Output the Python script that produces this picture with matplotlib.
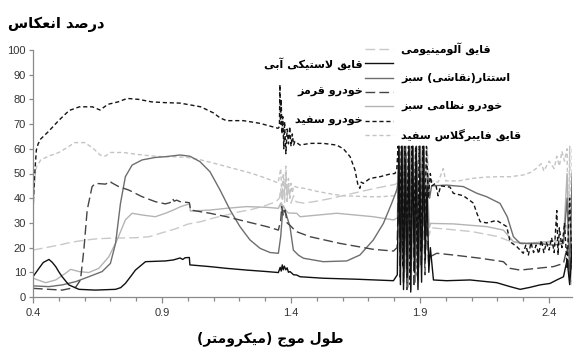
import matplotlib
matplotlib.use('Agg')
import matplotlib.pyplot as plt
from matplotlib.lines import Line2D

plt.rcParams['font.family'] = ['Liberation Sans', 'DejaVu Sans']

# ---------------- text ----------------
title_text = "درصد انعکاس"
xlabel_text = "طول موج (میکرومتر)"
label_alu = "قایق آلومینیومی"
label_rubber = "قایق لاستیکی آبی"
label_camo = "استتار(نقاشی) سبز"
label_redcar = "خودرو قرمز"
label_milcar = "خودرو نظامی سبز"
label_whitecar = "خودرو سفید"
label_fiber = "قایق فایبرگلاس سفید"

x_ticks = [0.4, 0.9, 1.4, 1.9, 2.4]
x_tick_labels = ["0.4", "0.9", "1.4", "1.9", "2.4"]
y_ticks = [0, 10, 20, 30, 40, 50, 60, 70, 80, 90, 100]

# ---------------- data (wavelength um, reflectance %) ----------------
wl_alu = [0.40, 0.45, 0.50, 0.55, 0.60, 0.65, 0.70, 0.75, 0.80, 0.85, 0.90, 0.95, 1.00, 1.05, 1.10,
          1.15, 1.20, 1.25, 1.30, 1.34, 1.355, 1.36, 1.365, 1.37, 1.375, 1.38, 1.385, 1.39, 1.40,
          1.41, 1.42, 1.45, 1.50, 1.55, 1.60, 1.65, 1.70, 1.75, 1.80,
          1.812, 1.818, 1.825, 1.831, 1.838, 1.845, 1.851, 1.858, 1.865, 1.872, 1.879, 1.886,
          1.893, 1.900, 1.907, 1.914, 1.921, 1.928, 1.935, 1.945,
          2.00, 2.05, 2.10, 2.15, 2.20, 2.25, 2.30, 2.35, 2.40, 2.45, 2.47, 2.48, 2.49]
rf_alu = [19.0, 20.0, 21.0, 22.2, 23.0, 23.6, 23.8, 23.9, 24.0, 24.4, 26.0, 27.5, 29.5, 30.5, 32.0,
          33.2, 34.5, 35.5, 37.0, 38.5, 40.0, 44.0, 36.0, 47.0, 38.0, 50.0, 40.0, 45.0, 38.0,
          41.0, 38.5, 38.0, 38.8, 39.8, 41.0, 42.2, 43.4, 44.5, 45.5,
          46, 61, 25, 61, 12, 61, 30, 61, 8, 50, 20, 61,
          4, 61, 22, 61, 18, 40, 25, 28,
          27.5, 27.0, 26.5, 25.5, 24.5, 22.5, 21.5, 21.5, 22.0, 22.5, 30.0, 15.0, 40.0]

wl_rubber = [0.400, 0.423, 0.440, 0.462, 0.475, 0.488, 0.500, 0.513, 0.539, 0.578, 0.642, 0.720,
             0.740, 0.758, 0.780, 0.797, 0.836, 0.913, 0.944, 0.970, 0.980, 0.990, 1.006, 1.008,
             1.086, 1.150, 1.228, 1.306, 1.351, 1.358, 1.362, 1.366, 1.370, 1.374, 1.380, 1.385,
             1.390, 1.396, 1.410, 1.422, 1.435, 1.525, 1.654, 1.797,
             1.812, 1.818, 1.824, 1.830, 1.836, 1.843, 1.850, 1.857, 1.864, 1.871, 1.878, 1.885,
             1.892, 1.899, 1.906, 1.913, 1.920, 1.927, 1.934, 1.940,
             1.952, 2.003, 2.094, 2.197, 2.249, 2.288, 2.326, 2.365, 2.404, 2.430, 2.456,
             2.470, 2.480, 2.490]
rf_rubber = [8.2, 11.6, 14.0, 15.2, 14.0, 12.3, 10.2, 8.2, 4.9, 3.1, 2.8, 3.1,
             3.8, 5.5, 8.5, 10.9, 14.3, 14.6, 15.0, 15.8, 15.2, 15.9, 16.0, 13.0,
             12.3, 11.6, 10.9, 10.3, 9.9, 12.0, 10.5, 13.0, 11.0, 12.5, 11.0, 11.8,
             10.0, 10.3, 9.0, 8.9, 8.2, 7.6, 7.2, 6.6,
             9, 61, 5, 61, 3, 55, 8, 61, 2, 61, 10, 61,
             3, 50, 6, 61, 15, 45, 10, 20,
             6.9, 6.6, 6.9, 5.8, 4.2, 3.1, 3.9, 4.9, 5.5, 6.9, 8.2,
             15.0, 5.0, 20.0]

wl_camo = [0.400, 0.462, 0.513, 0.565, 0.616, 0.668, 0.700, 0.720, 0.739, 0.758, 0.784, 0.823,
           0.874, 0.913, 0.970, 1.008, 1.047, 1.086, 1.125, 1.164, 1.202, 1.241, 1.280, 1.319,
           1.351, 1.360, 1.368, 1.380, 1.396, 1.409, 1.428, 1.448, 1.525, 1.616, 1.667, 1.719,
           1.758, 1.790, 1.810,
           1.814, 1.820, 1.827, 1.833, 1.840, 1.847, 1.853, 1.860, 1.867, 1.874, 1.881, 1.888,
           1.895, 1.902, 1.909, 1.916, 1.923, 1.930, 1.937, 1.945,
           2.003, 2.068, 2.120, 2.158, 2.210, 2.238, 2.262, 2.288, 2.352, 2.417, 2.456,
           2.470, 2.480, 2.490]
rf_camo = [4.5, 4.2, 4.9, 6.2, 8.2, 10.3, 13.6, 21.7, 37.9, 48.7, 53.4, 55.5,
           56.5, 56.8, 57.5, 57.0, 54.8, 50.7, 43.3, 35.2, 28.5, 23.1, 19.7, 18.0,
           17.7, 24.4, 35.2, 33.9, 28.5, 19.0, 17.0, 15.7, 14.3, 14.6, 17.0, 23.1,
           29.8, 37.9, 43.3,
           46, 61, 20, 61, 10, 58, 4, 61, 15, 61, 6, 55,
           12, 61, 20, 61, 25, 50, 40, 45,
           45.3, 44.7, 42.0, 40.6, 37.9, 32.5, 24.4, 21.7, 21.7, 21.0, 21.7,
           40.0, 10.0, 50.0]

wl_redcar = [0.400, 0.462, 0.513, 0.565, 0.584, 0.597, 0.610, 0.629, 0.642, 0.681, 0.700, 0.704,
             0.732, 0.771, 0.823, 0.874, 0.913, 0.931, 0.941, 0.947, 0.957, 0.970, 1.006, 1.011,
             1.086, 1.150, 1.228, 1.306, 1.351, 1.360, 1.364, 1.370, 1.377, 1.385, 1.396, 1.410,
             1.420, 1.474, 1.590, 1.719, 1.797,
             1.811, 1.817, 1.823, 1.829, 1.836, 1.842, 1.849, 1.856, 1.863, 1.870, 1.877, 1.884,
             1.891, 1.898, 1.905, 1.912, 1.919, 1.926, 1.933, 1.939,
             1.965, 2.029, 2.133, 2.223, 2.249, 2.288, 2.352, 2.417, 2.456,
             2.470, 2.480, 2.490]
rf_redcar = [3.5, 3.1, 2.8, 3.9, 6.9, 19.0, 35.2, 44.7, 46.0, 45.7, 46.8, 46.3,
             44.7, 43.3, 40.6, 38.6, 37.7, 38.2, 39.8, 38.8, 39.2, 38.6, 38.2, 35.2,
             33.9, 32.5, 30.5, 28.5, 27.1, 31.0, 36.6, 33.0, 35.2, 30.0, 29.0, 27.5,
             26.5, 24.4, 21.7, 19.3, 18.6,
             20, 45, 8, 61, 5, 61, 3, 50, 10, 61, 4, 58,
             7, 61, 12, 48, 9, 35, 14, 16.3,
             17.7, 17.0, 15.7, 14.3, 11.6, 10.9, 11.6, 12.3, 13.6,
             20.0, 8.0, 25.0]

wl_milcar = [0.400, 0.449, 0.488, 0.526, 0.546, 0.578, 0.616, 0.655, 0.694, 0.726, 0.758, 0.784,
             0.823, 0.874, 0.913, 0.944, 0.970, 1.006, 1.010, 1.086, 1.150, 1.228, 1.306, 1.351,
             1.360, 1.365, 1.370, 1.380, 1.390, 1.422, 1.435, 1.577, 1.719, 1.797,
             1.812, 1.819, 1.826, 1.832, 1.839, 1.846, 1.853, 1.859, 1.866, 1.873, 1.880, 1.887,
             1.894, 1.901, 1.908, 1.915, 1.922, 1.929, 1.936, 1.941,
             2.029, 2.158, 2.223, 2.262, 2.313, 2.391, 2.456,
             2.470, 2.480, 2.490]
rf_milcar = [7.6, 5.8, 6.9, 9.6, 11.2, 10.3, 9.9, 11.6, 16.3, 23.1, 31.2, 33.9,
             33.2, 32.5, 33.9, 35.2, 36.5, 37.7, 34.8, 35.2, 35.9, 36.6, 36.3, 35.9,
             38.0, 34.0, 37.0, 35.0, 34.0, 33.9, 32.5, 33.9, 32.5, 31.2,
             32, 61, 15, 61, 8, 61, 25, 61, 3, 61, 18, 61,
             6, 61, 20, 55, 25, 45, 28, 29.8,
             29.6, 28.5, 27.1, 22.4, 21.7, 22.4, 23.1,
             50.0, 10.0, 45.0]

wl_whitecar = [0.400, 0.404, 0.408, 0.413, 0.420, 0.430, 0.460, 0.500, 0.540, 0.580, 0.630, 0.660,
               0.690, 0.730, 0.765, 0.810, 0.860, 0.910, 0.970, 1.050, 1.100, 1.125, 1.150, 1.215,
               1.280, 1.350, 1.355, 1.357, 1.359, 1.362, 1.365, 1.368, 1.372, 1.375, 1.380, 1.385,
               1.390, 1.395, 1.400, 1.405, 1.410, 1.415, 1.435, 1.474, 1.525, 1.577, 1.603, 1.629,
               1.648, 1.660, 1.667, 1.672, 1.680, 1.706, 1.745, 1.784, 1.803,
               1.810, 1.815, 1.821, 1.828, 1.834, 1.841, 1.848, 1.855, 1.862, 1.869, 1.876, 1.883,
               1.890, 1.897, 1.904, 1.911, 1.918, 1.925, 1.932, 1.940, 1.946,
               1.960, 1.970, 1.980, 2.016, 2.029, 2.068, 2.107, 2.120, 2.133, 2.158, 2.197, 2.236,
               2.249, 2.275, 2.300, 2.310, 2.320, 2.330, 2.340, 2.350, 2.360, 2.370, 2.380, 2.390,
               2.400, 2.410, 2.420, 2.430, 2.435, 2.440, 2.450, 2.460, 2.470, 2.480, 2.490]
rf_whitecar = [36.0, 44.0, 52.0, 59.5, 62.0, 64.0, 67.0, 71.5, 75.5, 77.0, 77.0, 75.7,
               78.0, 79.0, 80.4, 80.0, 79.0, 78.7, 78.5, 77.0, 74.5, 72.5, 71.4, 71.4,
               70.3, 68.3, 69.0, 86.0, 70.0, 80.0, 66.0, 73.0, 60.0, 71.0, 58.0, 68.0,
               62.0, 69.0, 61.0, 66.0, 61.5, 63.0, 61.5, 62.2, 62.2, 61.5, 60.0, 56.8,
               51.4, 45.0, 44.0, 46.5, 46.0, 48.0, 48.7, 49.8, 50.0,
               52, 61, 30, 61, 12, 61, 20, 61, 5, 61, 25, 61,
               8, 61, 18, 61, 30, 61, 40, 50, 45,
               46.0, 41.0, 45.0, 44.5, 42.0, 41.0, 38.0, 34.0, 30.5, 30.0, 31.0, 28.5,
               22.4, 20.4, 17.7, 21.0, 17.0, 22.0, 18.0, 21.0, 17.5, 23.0, 18.0, 22.0,
               19.0, 24.0, 18.0, 35.0, 17.0, 28.0, 20.0, 30.0, 12.0, 40.0, 10.0]

wl_fiber = [0.400, 0.405, 0.410, 0.415, 0.430, 0.460, 0.500, 0.540, 0.560, 0.600, 0.630, 0.660,
            0.680, 0.700, 0.750, 0.800, 0.850, 0.900, 0.950, 1.000, 1.050, 1.100, 1.150, 1.200,
            1.250, 1.300, 1.350, 1.360, 1.365, 1.370, 1.375, 1.380, 1.385, 1.390, 1.395, 1.400,
            1.405, 1.410, 1.420, 1.450, 1.500, 1.550, 1.600, 1.650, 1.700, 1.750, 1.800,
            1.813, 1.820, 1.826, 1.833, 1.839, 1.846, 1.852, 1.859, 1.866, 1.872, 1.879, 1.886,
            1.893, 1.900, 1.907, 1.914, 1.921, 1.928, 1.935, 1.945,
            1.970, 1.990, 2.000, 2.050, 2.100, 2.150, 2.200, 2.250, 2.300, 2.330, 2.350, 2.370,
            2.380, 2.400, 2.420, 2.430, 2.440, 2.450, 2.460, 2.470, 2.475, 2.480, 2.485, 2.490]
rf_fiber = [32.0, 45.0, 51.0, 53.0, 55.5, 57.0, 58.5, 61.0, 62.5, 62.5, 60.5, 57.5,
            57.0, 58.5, 58.5, 57.8, 57.2, 56.8, 56.8, 56.5, 55.5, 54.2, 52.8, 51.4,
            50.0, 48.2, 46.2, 52.0, 40.0, 50.0, 42.0, 53.0, 38.0, 48.0, 40.0, 46.0,
            42.0, 45.0, 44.5, 44.0, 42.8, 41.8, 41.0, 40.8, 40.6, 40.6, 41.0,
            44, 61, 30, 61, 18, 61, 35, 61, 10, 61, 28, 61,
            15, 61, 38, 61, 30, 61, 45, 47,
            46.5, 52.0, 47.0, 47.0, 48.0, 48.5, 48.7, 48.7, 49.4, 50.5, 52.0, 54.0,
            51.0, 55.0, 52.0, 57.0, 53.0, 59.0, 55.0, 60.0, 20.0, 61.0, 5.0, 60.0]

# ---------------- Persian shaping (contextual forms + visual order) ----------------
FORMS = {
    '\u0622': ('\uFE81', '\uFE82', None, None),
    '\u0627': ('\uFE8D', '\uFE8E', None, None),
    '\u0628': ('\uFE8F', '\uFE90', '\uFE91', '\uFE92'),
    '\u062A': ('\uFE95', '\uFE96', '\uFE97', '\uFE98'),
    '\u062C': ('\uFE9D', '\uFE9E', '\uFE9F', '\uFEA0'),
    '\u062E': ('\uFEA5', '\uFEA6', '\uFEA7', '\uFEA8'),
    '\u062F': ('\uFEA9', '\uFEAA', None, None),
    '\u0631': ('\uFEAD', '\uFEAE', None, None),
    '\u0632': ('\uFEAF', '\uFEB0', None, None),
    '\u0633': ('\uFEB1', '\uFEB2', '\uFEB3', '\uFEB4'),
    '\u0634': ('\uFEB5', '\uFEB6', '\uFEB7', '\uFEB8'),
    '\u0635': ('\uFEB9', '\uFEBA', '\uFEBB', '\uFEBC'),
    '\u0637': ('\uFEC1', '\uFEC2', '\uFEC3', '\uFEC4'),
    '\u0638': ('\uFEC5', '\uFEC6', '\uFEC7', '\uFEC8'),
    '\u0639': ('\uFEC9', '\uFECA', '\uFECB', '\uFECC'),
    '\u0641': ('\uFED1', '\uFED2', '\uFED3', '\uFED4'),
    '\u0642': ('\uFED5', '\uFED6', '\uFED7', '\uFED8'),
    '\u06A9': ('\uFB8E', '\uFB8F', '\uFB90', '\uFB91'),
    '\u06AF': ('\uFB92', '\uFB93', '\uFB94', '\uFB95'),
    '\u0644': ('\uFEDD', '\uFEDE', '\uFEDF', '\uFEE0'),
    '\u0645': ('\uFEE1', '\uFEE2', '\uFEE3', '\uFEE4'),
    '\u0646': ('\uFEE5', '\uFEE6', '\uFEE7', '\uFEE8'),
    '\u0648': ('\uFEED', '\uFEEE', None, None),
    '\u06CC': ('\uFBFC', '\uFBFD', '\uFBFE', '\uFBFF'),
}
NORMALIZE = {'\u0643': '\u06A9', '\u064A': '\u06CC', '\u0649': '\u06CC'}
LAM_ALEF = {'\u0627': ('\uFEFB', '\uFEFC'), '\u0622': ('\uFEF5', '\uFEF6')}


def shape(s):
    s = ''.join(NORMALIZE.get(c, c) for c in s)
    out = []
    prev_joins = False
    i = 0
    n = len(s)
    while i < n:
        c = s[i]
        if c in FORMS:
            if c == '\u0644' and i + 1 < n and s[i + 1] in LAM_ALEF:
                lig = LAM_ALEF[s[i + 1]]
                out.append(lig[1] if prev_joins else lig[0])
                prev_joins = False
                i += 2
                continue
            f = FORMS[c]
            nxt = s[i + 1] if i + 1 < n else ''
            next_joins = f[2] is not None and nxt in FORMS
            if prev_joins and next_joins:
                g = f[3]
            elif prev_joins:
                g = f[1]
            elif next_joins:
                g = f[2]
            else:
                g = f[0]
            out.append(g)
            prev_joins = next_joins
        else:
            out.append(c)
            prev_joins = False
        i += 1
    mirror = {'(': ')', ')': '('}
    return ''.join(mirror.get(ch, ch) for ch in reversed(out))


FA = ['DejaVu Sans']

# ---------------- styles ----------------
styles = {
    'alu': dict(color='#c9c9c9', lw=1.0, dashes=(7, 3)),
    'fiber': dict(color='#c4c4c4', lw=1.0, dashes=(3, 2)),
    'milcar': dict(color='#b4b4b4', lw=1.0, linestyle='-'),
    'camo': dict(color='#6e6e6e', lw=1.0, linestyle='-'),
    'redcar': dict(color='#454545', lw=1.0, dashes=(7, 3)),
    'whitecar': dict(color='#151515', lw=1.0, dashes=(3, 2)),
    'rubber': dict(color='#101010', lw=1.0, linestyle='-'),
}

W, H = 574, 353
fig = plt.figure(figsize=(W / 100, H / 100), dpi=100)
fig.patch.set_facecolor('white')
L, R, T, B = 33, 572, 50, 297
ax = fig.add_axes([L / W, 1 - B / H, (R - L) / W, (B - T) / H])

series = [
    (wl_alu, rf_alu, 'alu'),
    (wl_fiber, rf_fiber, 'fiber'),
    (wl_milcar, rf_milcar, 'milcar'),
    (wl_camo, rf_camo, 'camo'),
    (wl_redcar, rf_redcar, 'redcar'),
    (wl_whitecar, rf_whitecar, 'whitecar'),
    (wl_rubber, rf_rubber, 'rubber'),
]
for xs, ys, key in series:
    ax.plot(xs, ys, **styles[key])

ax.set_xlim(0.4, 2.489)
ax.set_ylim(0, 100)
for s in ['top', 'right']:
    ax.spines[s].set_visible(False)
for s in ['left', 'bottom']:
    ax.spines[s].set_color('#8a8a8a')
    ax.spines[s].set_linewidth(0.9)

ax.set_xticks(x_ticks)
ax.set_xticklabels(x_tick_labels)
ax.set_xticks([0.5, 0.6, 0.7, 0.8, 1.0, 1.1, 1.2, 1.3, 1.5, 1.6, 1.7, 1.8,
               2.0, 2.1, 2.2, 2.3], minor=True)
ax.set_yticks(y_ticks)
ax.tick_params(axis='both', which='both', direction='out', color='#8a8a8a', width=0.9,
               labelsize=8, labelcolor='#333333')
ax.tick_params(axis='x', which='major', length=4, pad=4)
ax.tick_params(axis='x', which='minor', length=3)
ax.tick_params(axis='y', which='major', length=3, pad=2)

ax.set_xlabel(shape(xlabel_text), family=FA, fontsize=10, fontweight='bold', va='center')
ax.xaxis.set_label_coords((270 - L) / (R - L), (B - 339) / (B - T))
ax.set_ylabel(shape(title_text), family=FA, fontsize=10.5, fontweight='bold', rotation=0,
              ha='left', va='center')
ax.yaxis.set_label_coords((8 - L) / (R - L), (B - 24) / (B - T))

# ---------------- legend (sample lines in one column, labels alternate sides) ----------------
legend_entries = [
    (label_alu, 'alu', 'right'),
    (label_rubber, 'rubber', 'left'),
    (label_camo, 'camo', 'right'),
    (label_redcar, 'redcar', 'left'),
    (label_milcar, 'milcar', 'right'),
    (label_whitecar, 'whitecar', 'left'),
    (label_fiber, 'fiber', 'right'),
]
for i, (lab, key, side) in enumerate(legend_entries):
    py = 49 + 14.3 * i
    yf = 1 - py / H
    fig.add_artist(Line2D([365 / W, 393 / W], [yf, yf], transform=fig.transFigure, **styles[key]))
    if side == 'right':
        fig.text(401 / W, yf, shape(lab), ha='left', va='center', family=FA, fontsize=8,
                 fontweight='bold')
    else:
        fig.text(363 / W, yf, shape(lab), ha='right', va='center', family=FA, fontsize=8,
                 fontweight='bold')

fig.savefig('out.png', dpi=100, facecolor='white')
